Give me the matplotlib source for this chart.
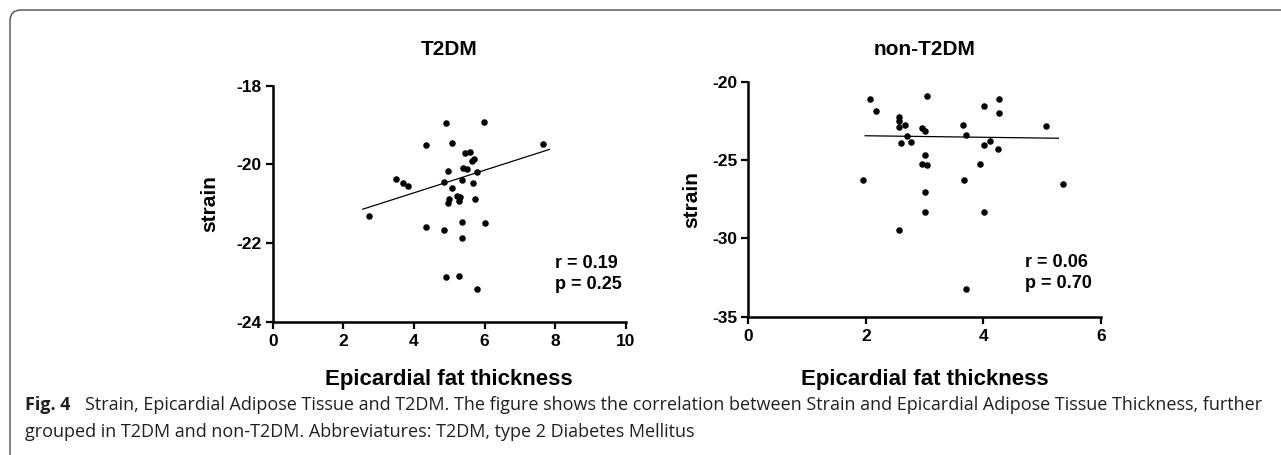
import matplotlib
matplotlib.use('Agg')
import matplotlib.pyplot as plt
from matplotlib.patches import FancyBboxPatch
from matplotlib.transforms import IdentityTransform

# values
t2dm_eat = [4.91, 5.99, 4.35, 5.09, 7.67, 5.45, 5.59, 5.64, 5.71, 4.97,
            5.38, 5.51, 5.78, 3.48, 3.70, 3.82, 4.84, 5.35, 5.68, 5.09,
            4.99, 4.98, 5.21, 5.32, 5.28, 5.72, 2.73, 4.35, 4.85, 5.35,
            6.01, 5.35, 4.91, 5.28, 5.78]
t2dm_strain = [-18.94, -18.92, -19.52, -19.45, -19.48, -19.72, -19.69, -19.91, -19.87, -20.17,
               -20.08, -20.12, -20.20, -20.37, -20.47, -20.56, -20.44, -20.41, -20.47, -20.59,
               -20.89, -20.97, -20.80, -20.83, -20.94, -20.89, -21.31, -21.59, -21.67, -21.46,
               -21.49, -21.87, -22.86, -22.84, -23.16]

non_eat = [2.07, 2.17, 3.04, 2.57, 2.57, 2.57, 2.67, 2.71, 2.60, 2.77,
           2.96, 3.01, 3.01, 2.96, 3.05, 3.65, 3.71, 4.01, 4.27, 4.27,
           4.01, 4.12, 4.25, 3.95, 5.07, 1.95, 3.67, 5.35, 3.01, 3.01,
           4.01, 2.57, 3.71]
non_strain = [-21.12, -21.87, -20.89, -22.28, -22.51, -22.86, -22.78, -23.45, -23.89, -23.83,
              -22.94, -23.13, -24.66, -25.25, -25.34, -22.78, -23.38, -21.57, -21.12, -22.02,
              -24.06, -23.80, -24.28, -25.25, -22.85, -26.29, -26.29, -26.53, -27.06, -28.33,
              -28.33, -29.44, -33.21]

# regression lines as drawn in the reference (end points)
t2dm_fit_x = [2.55, 7.84]
t2dm_fit_y = [-21.14, -19.62]
non_fit_x = [1.99, 5.28]
non_fit_y = [-23.45, -23.61]

stats_t2dm = "r = 0.19\np = 0.25"
stats_non = "r = 0.06\np = 0.70"

caption_1 = ("Strain, Epicardial Adipose Tissue and T2DM. The figure shows the correlation between "
             "Strain and Epicardial Adipose Tissue Thickness, further")
caption_2 = "grouped in T2DM and non-T2DM. Abbreviatures: T2DM, type 2 Diabetes Mellitus"

W, H = 1281, 455
plt.rcParams['font.family'] = ['Liberation Sans', 'DejaVu Sans']
plt.rcParams['font.weight'] = 'bold'
plt.rcParams['axes.unicode_minus'] = False

fig = plt.figure(figsize=(W / 100, H / 100), dpi=100)


def panel(rect, xs, ys, fit_x, fit_y, title, xlim, xticks, ylim, yticks, stats, stats_xy,
          tpad, xpad, ypad):
    ax = fig.add_axes(rect)
    ax.scatter(xs, ys, s=22, color='black', linewidths=0, zorder=3)
    ax.plot(fit_x, fit_y, color='black', lw=0.9)
    ax.set_xlim(xlim)
    ax.set_ylim(ylim)
    ax.set_xticks(xticks)
    ax.set_yticks(yticks)
    for s in ['top', 'right']:
        ax.spines[s].set_visible(False)
    for s in ['left', 'bottom']:
        ax.spines[s].set_linewidth(1.8)
    ax.tick_params(direction='out', length=5, width=1.6, labelsize=12.5, pad=3)
    ax.tick_params(axis='x', pad=4)
    ax.set_title(title, fontsize=15, fontweight='bold', pad=tpad)
    ax.set_xlabel('Epicardial fat thickness', fontsize=16, fontweight='bold', labelpad=xpad)
    ax.set_ylabel('strain', fontsize=15, fontweight='bold', labelpad=ypad)
    ax.text(stats_xy[0], stats_xy[1], stats, fontsize=13, fontweight='bold',
            va='center', ha='left', linespacing=1.25)
    return ax


panel([272.7 / W, 1 - 321.7 / H, 353 / W, 236 / H], t2dm_eat, t2dm_strain, t2dm_fit_x, t2dm_fit_y,
      'T2DM', (0, 10), [0, 2, 4, 6, 8, 10], (-24, -18), [-24, -22, -20, -18],
      stats_t2dm, (8.0, -22.79), 22, 14, 12)
panel([748.3 / W, 1 - 316.7 / H, 352.4 / W, 235 / H], non_eat, non_strain, non_fit_x, non_fit_y,
      'non-T2DM', (0, 6), [0, 2, 4, 6], (-35, -20), [-35, -30, -25, -20],
      stats_non, (4.71, -32.21), 19.5, 18, 8)

# rounded frame round the figure (only top and left edges visible)
frame = FancyBboxPatch((10, -60), 1400, H - 10 + 60, boxstyle='round,pad=0,rounding_size=11',
                       transform=IdentityTransform(), fill=False, edgecolor='#3a3a3a', lw=0.9)
fig.add_artist(frame)

# caption
cap_font = ['Liberation Sans Narrow', 'Open Sans', 'DejaVu Sans']
r = fig.canvas.get_renderer()
t1 = fig.text(85 / W, 1 - 405 / H, caption_1, fontsize=11, fontweight='normal',
              family=cap_font, color='#231f20', va='center')
w = t1.get_window_extent(r).width
fs = 11 * (1268 - 85) / w
t1.set_fontsize(fs)
fig.text(25 / W, 1 - 405 / H, 'Fig. 4', fontsize=fs, fontweight='bold',
         family=cap_font, color='#231f20', va='center')
fig.text(25 / W, 1 - 432 / H, caption_2, fontsize=fs, fontweight='normal',
         family=cap_font, color='#231f20', va='center')

fig.savefig('out.png', dpi=100)
